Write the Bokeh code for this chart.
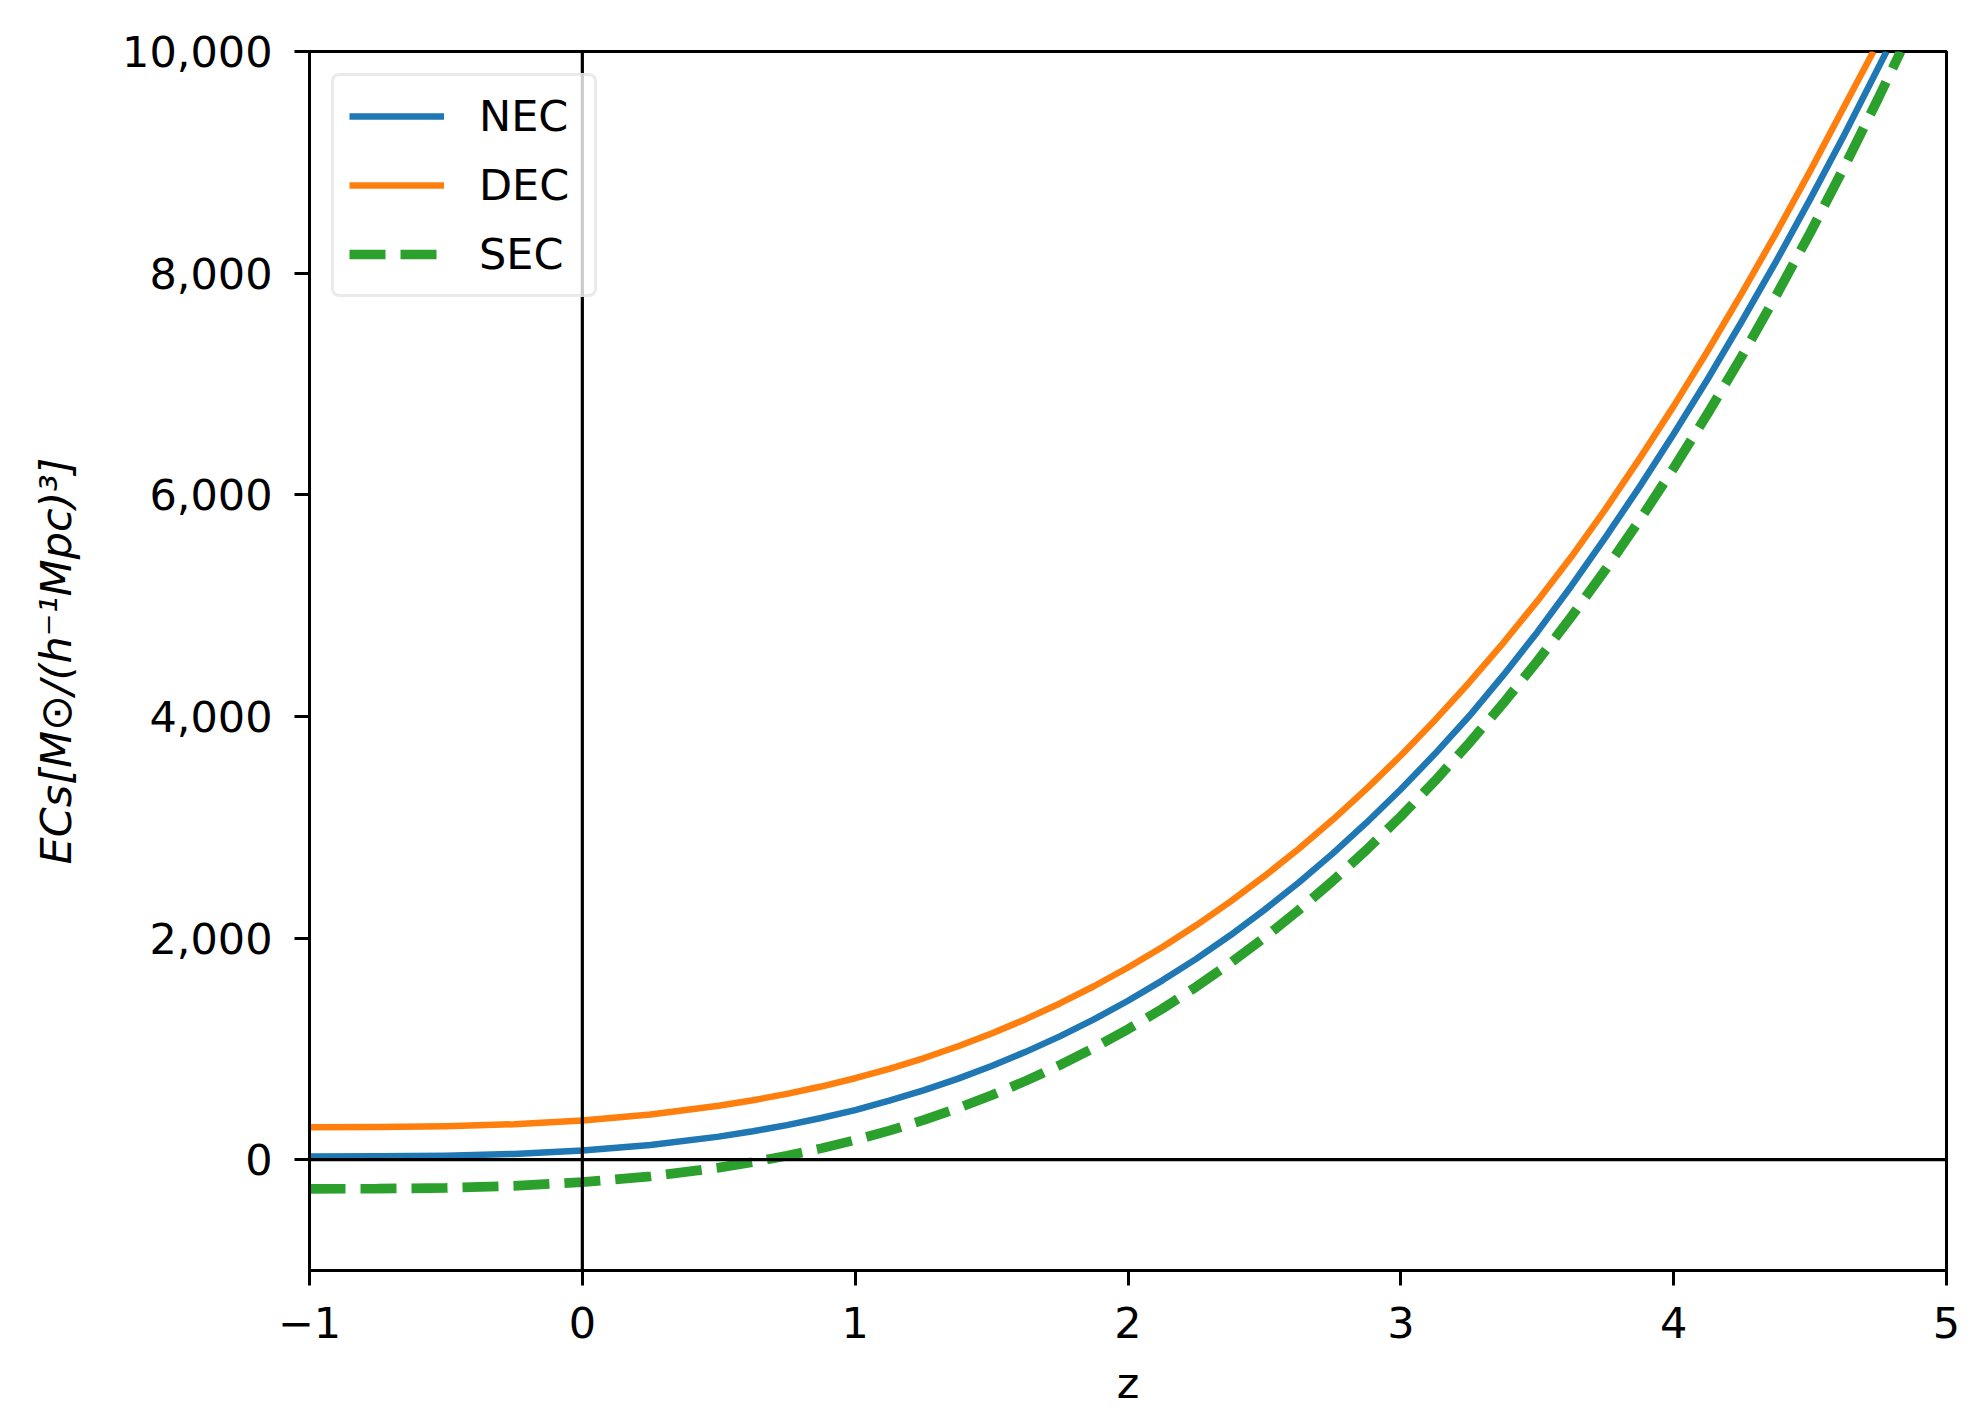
from bokeh.plotting import figure
from bokeh.models import Range1d, FixedTicker, Span, Legend, LegendItem
from bokeh.embed import file_html
from bokeh.resources import INLINE

# ---- data ----
z_nec = [-1.0, -0.75, -0.5, -0.25, 0.0, 0.25, 0.5, 0.625, 0.75, 0.875, 1.0, 1.125,
         1.25, 1.375, 1.5, 1.625, 1.75, 1.875, 2.0, 2.125, 2.25, 2.375, 2.5, 2.625,
         2.75, 2.875, 3.0, 3.125, 3.25, 3.375, 3.5, 3.625, 3.75, 3.875, 4.0, 4.125,
         4.25, 4.375, 4.5, 4.625, 4.78]
nec = [29, 30, 36, 52, 83, 133, 208, 256, 312, 376, 447, 532,
       625, 729, 845, 973, 1113, 1266, 1434, 1616, 1812, 2025, 2254, 2499,
       2762, 3043, 3343, 3662, 4001, 4370, 4760, 5177, 5616, 6071, 6548, 7045,
       7566, 8103, 8666, 9247, 10000]

z_dec = [-1.0, -0.75, -0.5, -0.25, 0.0, 0.25, 0.5, 0.625, 0.75, 0.875, 1.0, 1.125,
         1.25, 1.375, 1.5, 1.625, 1.75, 1.875, 2.0, 2.125, 2.25, 2.375, 2.5, 2.625,
         2.75, 2.875, 3.0, 3.125, 3.25, 3.375, 3.5, 3.625, 3.75, 3.875, 4.0, 4.125,
         4.25, 4.375, 4.5, 4.625, 4.732]
dec = [293, 295, 302, 320, 354, 408, 486, 536, 594, 660, 735, 820,
       915, 1021, 1139, 1268, 1410, 1565, 1734, 1917, 2115, 2328, 2558, 2804,
       3067, 3348, 3647, 3966, 4304, 4662, 5040, 5440, 5870, 6326, 6800, 7299,
       7820, 8358, 8920, 9504, 10000]

z_sec = [-1.0, -0.75, -0.5, -0.25, 0.0, 0.25, 0.5, 0.625, 0.75, 0.875, 1.0, 1.125,
         1.25, 1.375, 1.5, 1.625, 1.75, 1.875, 2.0, 2.125, 2.25, 2.375, 2.5, 2.625,
         2.75, 2.875, 3.0, 3.125, 3.25, 3.375, 3.5, 3.625, 3.75, 3.875, 4.0, 4.125,
         4.25, 4.375, 4.5, 4.625, 4.75, 4.832]
sec = [-263, -262, -254, -236, -203, -150, -72, -22, 36, 102, 177, 262,
       357, 463, 581, 711, 853, 1008, 1178, 1361, 1560, 1774, 2004, 2251,
       2515, 2798, 3098, 3418, 3758, 4117, 4498, 4900, 5324, 5770, 6240, 6734,
       7251, 7794, 8362, 8957, 9578, 10000]

series_names = ["NEC", "DEC", "SEC"]
series_colors = ["#1f77b4", "#ff7f0e", "#2ca02c"]

x_ticks = [-1, 0, 1, 2, 3, 4, 5]
x_tick_labels = ["\u22121", "0", "1", "2", "3", "4", "5"]
y_ticks = [0, 2000, 4000, 6000, 8000, 10000]
y_tick_labels = ["0", "2,000", "4,000", "6,000", "8,000", "10,000"]

x_title = "z"
y_title = "ECs[M\u2299/(h\u207b\u00b9Mpc)\u00b3]"

FONT = "DejaVu Sans"
FS = "43px"

p = figure(frame_width=1637, frame_height=1219,
           min_border_left=309, min_border_right=20,
           min_border_top=51, min_border_bottom=140,
           x_range=Range1d(-1, 5), y_range=Range1d(-1000, 10000),
           output_backend="svg", toolbar_location=None,
           background_fill_color="white", border_fill_color="white")

p.xgrid.visible = False
p.ygrid.visible = False
p.outline_line_color = "black"
p.outline_line_width = 3
p.outline_line_alpha = 1.0

for ax in (p.xaxis[0], p.yaxis[0]):
    ax.axis_line_color = "black"
    ax.axis_line_width = 3
    ax.major_tick_line_color = "black"
    ax.major_tick_line_width = 3
    ax.major_tick_out = 15
    ax.major_tick_in = 0
    ax.minor_tick_line_color = None
    ax.major_label_text_font = FONT
    ax.major_label_text_font_size = FS
    ax.major_label_text_color = "black"
    ax.axis_label_text_font = FONT
    ax.axis_label_text_font_size = FS
    ax.axis_label_text_color = "black"

p.xaxis.ticker = FixedTicker(ticks=x_ticks)
p.xaxis.major_label_overrides = {t: l for t, l in zip(x_ticks, x_tick_labels)}
p.xaxis.major_label_standoff = 21
p.xaxis.axis_label = x_title
p.xaxis.axis_label_text_font_style = "normal"
p.xaxis.axis_label_standoff = 17

p.yaxis.ticker = FixedTicker(ticks=y_ticks)
p.yaxis.major_label_overrides = {t: l for t, l in zip(y_ticks, y_tick_labels)}
p.yaxis.major_label_standoff = 22
p.yaxis.axis_label = y_title
p.yaxis.axis_label_text_font_style = "italic"
p.yaxis.axis_label_standoff = 38

r_nec = p.line(z_nec, nec, line_color=series_colors[0], line_width=6.5, line_join="round")
r_dec = p.line(z_dec, dec, line_color=series_colors[1], line_width=6.5, line_join="round")
r_sec = p.line(z_sec, sec, line_color=series_colors[2], line_width=9.7, line_dash="36 15")

legend = Legend(items=[LegendItem(label=series_names[0], renderers=[r_nec]),
                       LegendItem(label=series_names[1], renderers=[r_dec]),
                       LegendItem(label=series_names[2], renderers=[r_sec])],
                location="top_left", margin=22, padding=15, spacing=19,
                glyph_width=95, glyph_height=50, label_height=50, label_width=100,
                label_standoff=35, label_text_font=FONT, label_text_font_size=FS,
                label_text_color="black",
                border_line_color="#d6d6d6", border_line_width=3,
                background_fill_color="white", background_fill_alpha=0.8)
if "border_radius" in Legend.properties():
    legend.border_radius = 8
p.add_layout(legend)

p.add_layout(Span(location=0, dimension="width", line_color="black", line_width=3.2))
p.add_layout(Span(location=0, dimension="height", line_color="black", line_width=3.2))

open("out.html", "w").write(file_html(p, INLINE))
